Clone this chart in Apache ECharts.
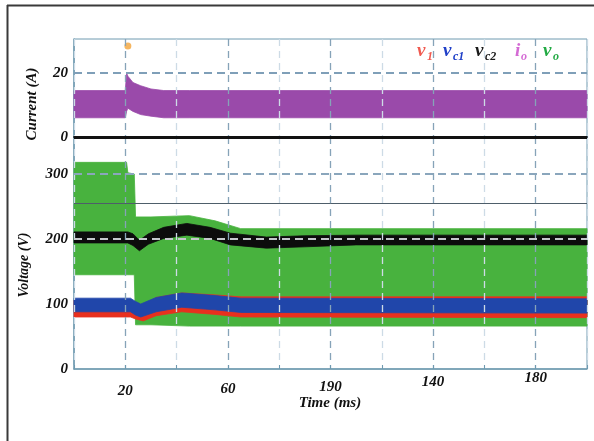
<!DOCTYPE html>
<html><head><meta charset="utf-8">
<script src="https://cdn.jsdelivr.net/npm/echarts@6/dist/echarts.min.js"></script>
<style>html,body{margin:0;padding:0;background:#fff}#c{width:594px;height:441px}</style>
</head><body><div id="c"></div>
<script>
// ---------- data ----------
// x axis (ms)
const xTickValues = [20, 60, 100, 140, 180];
const xTickLabels = ['20', '60', '190', '140', '180'];
const yTickCurrent = [0, 20];
const yTickVoltage = [0, 100, 200, 300];
// reference / graticule lines
const refLineCurrent = 20;
const refLinesVoltage = [300, 200];
const centreLineVoltage = 255;
// trigger marker
const triggerMark = [[21, 28.4]];

// i_o (A) ripple envelope
const timeIo = [0, 20, 20.5, 21, 23, 26, 30, 35, 45, 200];
const ioLow  = [6, 6, 8, 9, 8, 7, 6.5, 6, 6, 6];
const ioHigh = [14.5, 14.5, 20, 19, 17, 16, 15, 14.5, 14.5, 14.5];

// v_o (V) ripple envelope
const timeVo = [0, 20.5, 21, 23.5, 24, 30, 45, 55, 65, 200];
const voLow  = [145, 145, 145, 145, 68, 68, 66, 66, 66, 66];
const voHigh = [318, 318, 302, 300, 234, 234, 236, 228, 216, 216];

// v_c2 (V) envelope
const timeVc2 = [0, 21, 23, 25.5, 29, 35, 44, 53, 61, 75, 90, 110, 200];
const vc2Low  = [194, 194, 190, 182, 192, 201, 206, 201, 191, 186, 188, 191, 191];
const vc2High = [211, 211, 208, 198, 208, 218, 224, 218, 209, 203, 205, 206, 206];

// v_1 (V) envelope
const timeV1 = [0, 22, 24, 27, 32, 42, 55, 65, 200];
const v1Low  = [80, 80, 77, 74, 82, 88, 84, 80, 79];
const v1High = [106, 106, 102, 98, 110, 117, 114, 111, 111];

// v_c1 (V) envelope
const timeVc1 = [0, 22, 24, 26, 32, 42, 55, 65, 200];
const vc1Low  = [88, 88, 83, 80, 88, 95, 91, 87, 86];
const vc1High = [109, 109, 104, 100, 110, 117, 113, 109, 108];

// ---------- chart ----------
const F = '"Liberation Serif", "Times New Roman", serif';
const chart = echarts.init(document.getElementById('c'), null, {renderer: 'canvas'});

// envelope band drawn as one polygon through the axis scales
function band(name, t, lo, hi, color, gi) {
  return {
    name, type: 'custom', xAxisIndex: gi, yAxisIndex: gi, silent: true,
    data: t.map((x, i) => [x, lo[i], hi[i]]),
    encode: {x: 0, y: [1, 2]},
    renderItem: (params, api) => {
      if (params.dataIndex !== 0) return null;
      const pts = [];
      for (let i = 0; i < t.length; i++) pts.push(api.coord([t[i], hi[i]]));
      for (let i = t.length - 1; i >= 0; i--) pts.push(api.coord([t[i], lo[i]]));
      return {type: 'polygon', shape: {points: pts},
        style: {fill: color, stroke: color, lineWidth: 0.8}};
    }
  };
}
// invisible carrier series for reference lines
function refCarrier(name, gi, lines) {
  return {name, type: 'line', xAxisIndex: gi, yAxisIndex: gi, symbol: 'none', silent: true,
    lineStyle: {opacity: 0, width: 0}, data: [[0, lines[0].yAxis], [200, lines[0].yAxis]],
    markLine: {silent: true, symbol: 'none', label: {show: false}, z: 6, data: lines}};
}

const gridLineColors = ['#cddbe6', '#86a3b8'];
const richBase = {fontFamily: F, fontSize: 15, fontWeight: 'bold', fontStyle: 'italic', color: '#111'};
const labelRich = {
  l0: Object.assign({padding: [13, 0, 0, 0]}, richBase),
  l1: Object.assign({padding: [11, 0, 0, 0]}, richBase),
  l2: Object.assign({padding: [9, 0, 0, 0]}, richBase),
  l3: Object.assign({padding: [4, 0, 0, 0]}, richBase),
  l4: Object.assign({padding: [0, 0, 0, 0]}, richBase)
};
const yLabelStyle = {fontFamily: F, fontSize: 15, fontWeight: 'bold', fontStyle: 'italic', color: '#111', margin: 6};

const option = {
  animation: false,
  backgroundColor: '#ffffff',
  grid: [
    {left: 74, top: 39, width: 513, height: 98, show: true, borderColor: '#6f9ab0', borderWidth: 1, backgroundColor: '#fff'},
    {left: 74, top: 137, width: 513, height: 232, show: true, borderColor: '#6f9ab0', borderWidth: 1, backgroundColor: '#fff'}
  ],
  xAxis: [
    {gridIndex: 0, type: 'value', min: 0, max: 200, interval: 20, position: 'top', z: 3,
      axisLine: {show: true, lineStyle: {color: '#1c2e38', width: 2}},
      axisTick: {show: false}, axisLabel: {show: false},
      splitLine: {show: true, lineStyle: {color: gridLineColors, type: [7, 5], width: 1.3}}},
    {gridIndex: 1, type: 'value', min: 0, max: 200, interval: 20, position: 'bottom', z: 3,
      axisLine: {show: true, lineStyle: {color: '#6f9ab0', width: 1.5}},
      axisTick: {show: true, inside: true, length: 4, lineStyle: {color: '#6f9ab0'}},
      axisLabel: {margin: 2, rich: labelRich,
        formatter: v => { const i = xTickValues.indexOf(v); return i < 0 ? '' : '{l' + i + '|' + xTickLabels[i] + '}'; }},
      splitLine: {show: true, lineStyle: {color: gridLineColors, type: [7, 5], width: 1.3}}}
  ],
  yAxis: [
    {gridIndex: 0, type: 'value', min: 0, max: 30.6, interval: 10,
      axisLine: {show: true, lineStyle: {color: '#6f9ab0', width: 1.5}},
      axisTick: {show: false}, splitLine: {show: false},
      axisLabel: Object.assign({formatter: v => yTickCurrent.includes(v) ? String(v) : ''}, yLabelStyle)},
    {gridIndex: 1, type: 'value', min: 0, max: 357, interval: 100,
      axisLine: {show: true, lineStyle: {color: '#6f9ab0', width: 1.5}},
      axisTick: {show: false}, splitLine: {show: false},
      axisLabel: Object.assign({formatter: v => yTickVoltage.includes(v) ? String(v) : ''}, yLabelStyle)}
  ],
  series: [
    band('i_o', timeIo, ioLow, ioHigh, '#9a4aaa', 0),
    refCarrier('ref A', 0, [
      {yAxis: refLineCurrent, lineStyle: {color: '#7f9fb8', type: [8, 5], width: 2}},
      {yAxis: 0, lineStyle: {color: '#111', type: 'solid', width: 3}}
    ]),
    {name: 'trigger', type: 'scatter', xAxisIndex: 0, yAxisIndex: 0, symbol: 'circle', symbolSize: 7,
      itemStyle: {color: '#f2a43a'}, data: triggerMark, silent: true},
    band('v_o', timeVo, voLow, voHigh, '#48b23e', 1),
    band('v_c2', timeVc2, vc2Low, vc2High, '#0c0c0c', 1),
    band('v_1', timeV1, v1Low, v1High, '#e8301e', 1),
    band('v_c1', timeVc1, vc1Low, vc1High, '#2046aa', 1),
    refCarrier('ref V', 1, [
      {yAxis: refLinesVoltage[0], lineStyle: {color: '#8aa6bc', type: [8, 5], width: 2}},
      {yAxis: refLinesVoltage[1], lineStyle: {color: '#c4c8cc', type: [8, 5], width: 2}},
      {yAxis: centreLineVoltage, lineStyle: {color: '#4e5e6a', type: 'solid', width: 1}}
    ])
  ],
  graphic: [
    {type: 'line', shape: {x1: 7.5, y1: 5, x2: 7.5, y2: 441}, style: {stroke: '#3a3a3a', lineWidth: 2}, silent: true},
    {type: 'line', shape: {x1: 7, y1: 5.5, x2: 594, y2: 5.5}, style: {stroke: '#3a3a3a', lineWidth: 2}, silent: true},
    {type: 'text', x: 32, y: 104, rotation: Math.PI / 2,
      style: {text: 'Current (A)', font: 'bold italic 15px ' + F, fill: '#111', textAlign: 'center', textVerticalAlign: 'middle'}},
    {type: 'text', x: 24, y: 265, rotation: Math.PI / 2,
      style: {text: 'Voltage (V)', font: 'bold italic 14px ' + F, fill: '#111', textAlign: 'center', textVerticalAlign: 'middle'}},
    {type: 'text', x: 330, y: 403,
      style: {text: 'Time (ms)', font: 'bold italic 15px ' + F, fill: '#111', textAlign: 'center', textVerticalAlign: 'middle'}},
    // legend
    {type: 'text', x: 417, y: 51, style: {text: 'v', font: 'bold italic 19px ' + F, fill: '#f05a50', textVerticalAlign: 'middle'}},
    {type: 'text', x: 427, y: 57, style: {text: '1', font: 'bold italic 12px ' + F, fill: '#f05a50', textVerticalAlign: 'middle'}},
    {type: 'text', x: 443, y: 51, style: {text: 'v', font: 'bold italic 19px ' + F, fill: '#2040c8', textVerticalAlign: 'middle'}},
    {type: 'text', x: 453, y: 57, style: {text: 'c1', font: 'bold italic 12px ' + F, fill: '#2040c8', textVerticalAlign: 'middle'}},
    {type: 'text', x: 475, y: 51, style: {text: 'v', font: 'bold italic 19px ' + F, fill: '#1a1a1a', textVerticalAlign: 'middle'}},
    {type: 'text', x: 485, y: 57, style: {text: 'c2', font: 'bold italic 12px ' + F, fill: '#1a1a1a', textVerticalAlign: 'middle'}},
    {type: 'text', x: 515, y: 51, style: {text: 'i', font: 'bold italic 19px ' + F, fill: '#d46ad4', textVerticalAlign: 'middle'}},
    {type: 'text', x: 521, y: 57, style: {text: 'o', font: 'bold italic 12px ' + F, fill: '#d46ad4', textVerticalAlign: 'middle'}},
    {type: 'text', x: 543, y: 51, style: {text: 'v', font: 'bold italic 19px ' + F, fill: '#22aa44', textVerticalAlign: 'middle'}},
    {type: 'text', x: 553, y: 57, style: {text: 'o', font: 'bold italic 12px ' + F, fill: '#22aa44', textVerticalAlign: 'middle'}}
  ]
};
chart.setOption(option);
</script>
</body></html>
